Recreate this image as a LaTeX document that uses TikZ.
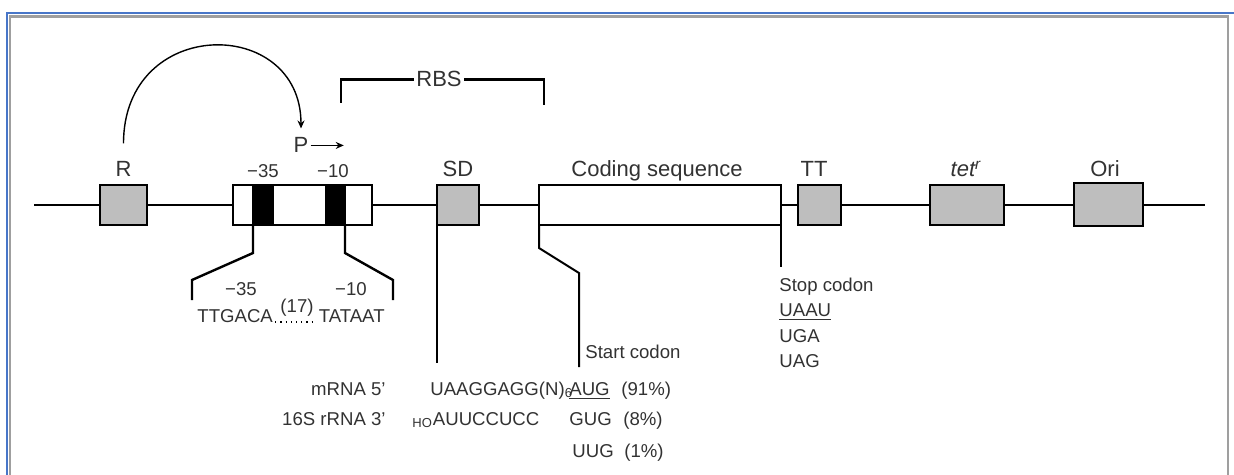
\documentclass[tikz,border=0pt]{standalone}
\usepackage{fontspec}
\setmainfont{Liberation Sans}
\usetikzlibrary{arrows.meta}
\definecolor{boxgray}{RGB}{190,190,190}
\definecolor{frameblue}{RGB}{72,118,200}
\definecolor{txtgray}{RGB}{50,50,50}
\newcommand\labfont{\fontsize{11}{13}\selectfont}
\newcommand\seqfont{\fontsize{9.3}{11}\selectfont}

\begin{document}
\begin{tikzpicture}[x=0.5pt,y=-0.5pt,
    genebox/.style={draw,line width=1.4pt,fill=boxgray,minimum height=20pt,inner sep=0pt,outer sep=0pt},
    bar/.style={draw,fill=black,line width=1.4pt,minimum height=20pt,inner sep=0pt,outer sep=0pt},
    lab/.style={font=\labfont,text=txtgray,inner sep=1pt},
    seq/.style={font=\seqfont,text=txtgray,inner sep=1pt},
    conn/.style={line width=1.2pt},
    thinconn/.style={line width=1pt}]
    \useasboundingbox (0,0) rectangle (1234,475);
    % frame
    \draw[frameblue,line width=1pt] (7,475)--(7,13)--(1234,13);
    \draw[gray!75,line width=1.3pt] (10,475)--(10,16.5)--(1228,16.5)--(1228,475);
    % backbone
    \coordinate (bbL) at (34,205);
    \coordinate (bbR) at (1205,205);
    \draw[line width=1.4pt] (bbL)--(bbR);
    % boxes
    \node[genebox,minimum width=23.5pt] (R) at (123.5,205) {};
    \node[genebox,fill=white,minimum width=69.5pt] (prom) at (302.5,205) {};
    \node[bar,minimum width=10pt] (bar35) at (263,205) {};
    \node[bar,minimum width=9.5pt] (bar10) at (335.5,205) {};
    \node[genebox,minimum width=21pt] (SD) at (458,205) {};
    \node[genebox,fill=white,minimum width=121pt] (cds) at (660,205) {};
    \node[genebox,minimum width=21.5pt] (TT) at (819.5,205) {};
    \node[genebox,minimum width=37pt] (tet) at (967,205) {};
    \node[genebox,minimum width=34.5pt,minimum height=21.5pt] (ori) at (1108.5,204.5) {};
    % labels above
    \node[lab,anchor=base] (Rlab) at (123.5,177) {R};
    \node[seq,anchor=base] (up35) at (263,178) {−35};
    \node[seq,anchor=base] (up10) at (333,178) {−10};
    \node[lab,anchor=base] (SDlab) at (458,177) {SD};
    \node[lab,anchor=base] (cdslab) at (657,177) {Coding sequence};
    \node[lab,anchor=base] (TTlab) at (814,177) {TT};
    \node[lab,anchor=base] (tetlab) at (966,177) {\textit{tet\textsuperscript{r}}};
    \node[lab,anchor=base] (orilab) at (1105,177) {Ori};
    % promoter and repressor
    \node[lab,anchor=base] (P) at (301,153) {P};
    \draw[line width=0.8pt,-{Stealth[length=4pt,width=3.5pt]}] (P.east)--++(33,0);
    \draw[line width=0.7pt,-{Stealth[length=4pt,width=3.5pt]}] ([yshift=8pt]Rlab.north)
        .. controls +(0,-128) and +(0,-113) .. ([yshift=3.5pt]P.north);
    % RBS bracket
    \node[lab,anchor=base] (RBS) at (439,87) {RBS};
    \draw[line width=1.3pt] (RBS.west)--++(-73,0)--++(0,24);
    \draw[line width=1.3pt] (RBS.east)--++(80,0)--++(0,26);
    % promoter consensus
    \draw[conn] (bar35.south west)--++(0,28)--++(-61,27)--++(0,20);
    \draw[conn] (bar10.south east)--++(0,28)--++(48,27)--++(0,20);
    \node[seq,anchor=base] (lo35) at (241,295) {−35};
    \node[seq,anchor=base] (lo10) at (351,295) {−10};
    \node[seq,anchor=base west] (box35) at (195,322) {TTGACA};
    \node[seq,anchor=base east] (box10) at (387,322) {TATAAT};
    \draw[dotted,line width=0.6pt] (box35.base east)--(box10.base west);
    \node[seq,anchor=base] (spacer) at (297,312) {(17)};
    % SD and start codon
    \draw[thinconn] (SD.south west)--++(0,138);
    \draw[thinconn] (cds.south west)--++(0,23)--++(40,25)--++(0,94);
    \node[seq,anchor=base west] (start) at (583,358) {Start codon};
    \node[seq,anchor=base east] (mrna) at (388,395) {mRNA 5'};
    \node[seq,anchor=base east] (rrna) at (388,425) {16S rRNA 3'};
    \node[seq,anchor=base west] (sdseq) at (428,395) {UAAGGAGG(N)\textsubscript{6}};
    \node[seq,anchor=base west] (asd) at (410,425) {\textsubscript{HO}AUUCCUCC};
    \node[seq,anchor=base west] (aug) at (567,395) {\underline{AUG}};
    \node[seq,anchor=base west] (gug) at (567,425) {GUG};
    \node[seq,anchor=base west] (uug) at (570,457) {UUG};
    \node[seq,anchor=base west] (p91) at (619,395) {(91\%)};
    \node[seq,anchor=base west] (p8) at (621,425) {(8\%)};
    \node[seq,anchor=base west] (p1) at (622,457) {(1\%)};
    % stop codon
    \draw[thinconn] (cds.south east)--++(0,42);
    \node[seq,anchor=base west] (stop) at (777,292) {Stop codon};
    \node[seq,anchor=base west] (uaa) at (777,316) {\underline{UAAU}};
    \node[seq,anchor=base west] (uga) at (777,342) {UGA};
    \node[seq,anchor=base west] (uag) at (777,367) {UAG};
\end{tikzpicture}
\end{document}
